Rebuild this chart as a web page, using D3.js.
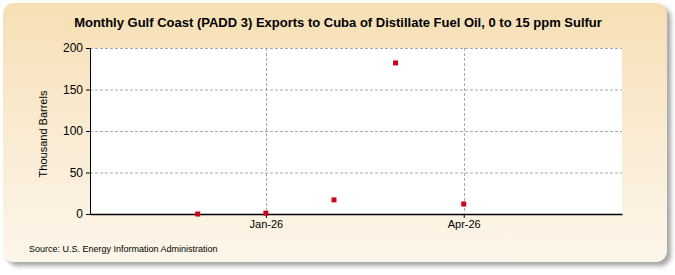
<!DOCTYPE html>
<html lang="en">

<head>
    <meta charset="UTF-8" />
    <title>Gulf Coast Exports to Cuba</title>
    <script src="https://cdn.jsdelivr.net/npm/d3@7"></script>
    <style>
        body { margin: 0; background: #fff; }
        text { font-family: Arial, "Liberation Sans", sans-serif; }
    </style>
</head>

<body>
<script>
    // data
    let months = ["2025-12-01", "2026-01-01", "2026-02-01", "2026-03-01", "2026-04-01"];
    let values = [0, 1, 17, 182, 12];
    let yTicks = [0, 50, 100, 150, 200];
    let xTicks = ["2026-01-01", "2026-04-01"];

    let w = 675, h = 275;
    let m = { left: 90, right: 622, top: 48, bottom: 214 };
    let parse = d3.utcParse("%Y-%m-%d");

    let svg = d3.select("body").append("svg")
        .attr("width", w)
        .attr("height", h);

    let defs = svg.append("defs");
    let grad = defs.append("linearGradient")
        .attr("id", "bg").attr("x1", 0).attr("y1", 0).attr("x2", 0).attr("y2", 1);
    grad.append("stop").attr("offset", "0%").attr("stop-color", "#f6dfb4");
    grad.append("stop").attr("offset", "55%").attr("stop-color", "#faecd5");
    grad.append("stop").attr("offset", "100%").attr("stop-color", "#fdf6ea");

    let blur = defs.append("filter").attr("id", "shadow")
        .attr("x", "-5%").attr("y", "-5%").attr("width", "115%").attr("height", "120%");
    blur.append("feGaussianBlur").attr("stdDeviation", 2);

    // panel shadow + panel
    svg.append("rect")
        .attr("x", 7).attr("y", 7).attr("width", 664).attr("height", 259)
        .attr("rx", 11)
        .attr("fill", "#8a8a8a").attr("opacity", 0.75)
        .attr("filter", "url(#shadow)");
    svg.append("rect")
        .attr("x", 3).attr("y", 3).attr("width", 664).attr("height", 259)
        .attr("rx", 11)
        .attr("fill", "url(#bg)");

    let x = d3.scaleUtc()
        .domain([parse("2025-10-13"), parse("2026-06-12")])
        .range([m.left, m.right]);
    let y = d3.scaleLinear()
        .domain([0, 200])
        .range([m.bottom, m.top]);

    // plot area
    svg.append("rect")
        .attr("x", m.left).attr("y", m.top)
        .attr("width", m.right - m.left).attr("height", m.bottom - m.top)
        .attr("fill", "#fff");

    // grid lines
    svg.append("g").selectAll("line")
        .data(yTicks.filter(d => d > 0))
        .join("line")
        .attr("x1", m.left).attr("x2", m.right)
        .attr("y1", d => y(d) + 0.5).attr("y2", d => y(d) + 0.5)
        .attr("stroke", "#a8a8a8").attr("stroke-dasharray", "3,2");
    svg.append("g").selectAll("line")
        .data(xTicks.map(parse))
        .join("line")
        .attr("x1", d => Math.round(x(d)) + 0.5).attr("x2", d => Math.round(x(d)) + 0.5)
        .attr("y1", m.top).attr("y2", m.bottom)
        .attr("stroke", "#a8a8a8").attr("stroke-dasharray", "3,2");

    // axes
    let yAxis = svg.append("g")
        .attr("transform", `translate(${m.left},0)`)
        .call(d3.axisLeft(y).tickValues(yTicks).tickSize(4).tickPadding(3));
    yAxis.select(".domain").attr("stroke", "#000");
    yAxis.selectAll("text").attr("font-size", 12).attr("fill", "#000")
        .attr("font-family", "Arial, 'Liberation Sans', sans-serif");

    let xAxis = svg.append("g")
        .attr("transform", `translate(0,${m.bottom})`)
        .call(d3.axisBottom(x).tickValues(xTicks.map(parse))
            .tickFormat(d3.utcFormat("%b-%y")).tickSize(4).tickSizeOuter(0).tickPadding(2));
    xAxis.select(".domain").attr("stroke", "#000").attr("stroke-width", 1.5);
    xAxis.selectAll("text").attr("font-size", 11).attr("fill", "#000")
        .attr("font-family", "Arial, 'Liberation Sans', sans-serif");

    // points
    svg.append("g").selectAll("rect")
        .data(months.map((d, i) => ({ date: parse(d), value: values[i] })))
        .join("rect")
        .attr("x", d => x(d.date) - 2.5)
        .attr("y", d => y(d.value) - 2.5)
        .attr("width", 5).attr("height", 5)
        .attr("fill", "#d0021b");

    // texts
    svg.append("text")
        .attr("x", 338).attr("y", 27)
        .attr("text-anchor", "middle")
        .attr("font-size", 13).attr("font-weight", "bold")
        .text("Monthly Gulf Coast (PADD 3) Exports to Cuba of Distillate Fuel Oil, 0 to 15 ppm Sulfur");

    svg.append("text")
        .attr("transform", `translate(47,${(m.top + m.bottom) / 2 + 3}) rotate(-90)`)
        .attr("text-anchor", "middle")
        .attr("font-size", 11)
        .text("Thousand Barrels");

    svg.append("text")
        .attr("x", 29).attr("y", 252)
        .attr("font-size", 9)
        .text("Source: U.S. Energy Information Administration");
</script>
</body>

</html>
